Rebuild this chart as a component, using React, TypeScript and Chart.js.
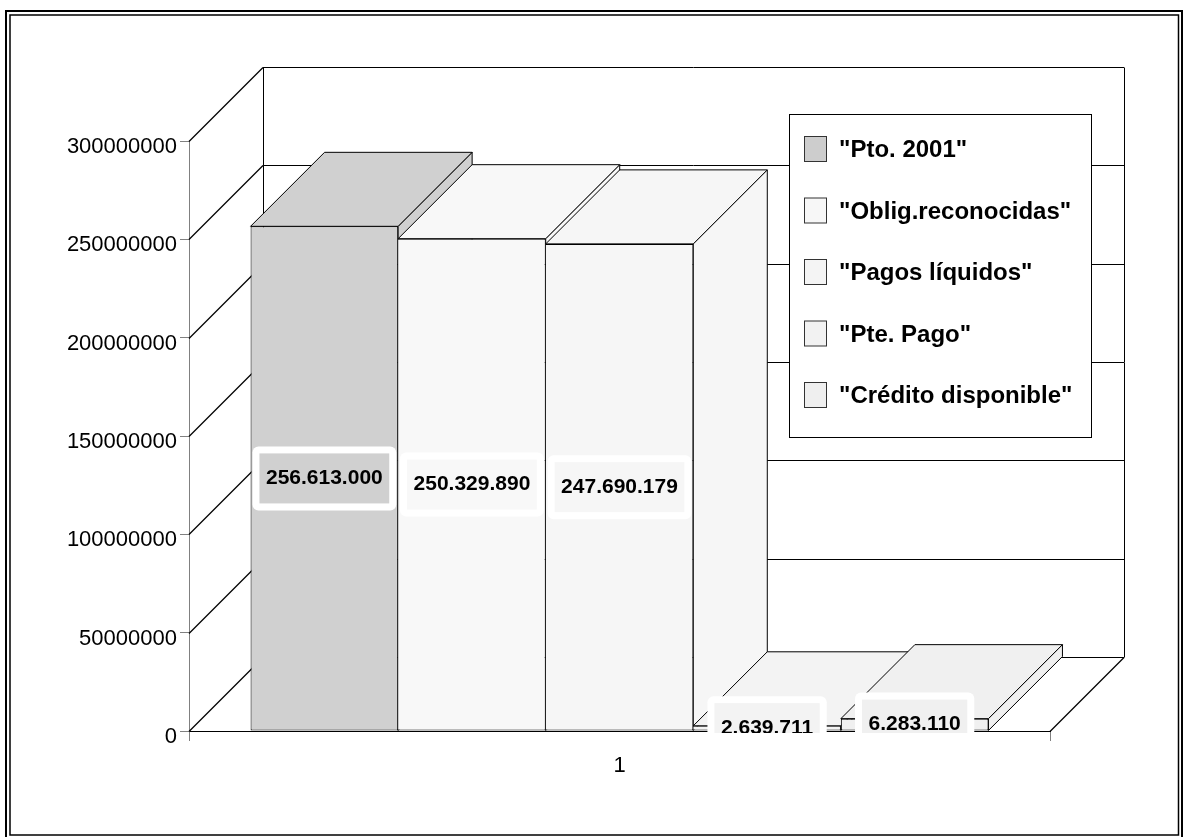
import React, { useEffect, useRef } from "react";
import { Chart, registerables } from "chart.js";

Chart.register(...registerables);

// ---------- data ----------
const CATEGORIES = ["1"];
const SERIES_NAMES = [
  '"Pto. 2001"',
  '"Oblig.reconocidas"',
  '"Pagos líquidos"',
  '"Pte. Pago"',
  '"Crédito disponible"',
];
const SERIES_VALUES = [256613000, 250329890, 247690179, 2639711, 6283110];
const SERIES_COLORS = ["#D0D0D0", "#F8F8F8", "#F6F6F6", "#F3F3F3", "#F0F0F0"];
const LEGEND_COLORS = ["#CDCDCD", "#F7F7F7", "#F4F4F4", "#F2F2F2", "#EFEFEF"];
const Y_MIN = 0;
const Y_MAX = 300000000;
const Y_STEP = 50000000;

// ---------- style constants ----------
const FONT = "'Liberation Sans', Arial, Helvetica, sans-serif";
const DEPTH = 74;

const fmt = (v: number) =>
  Math.round(v)
    .toString()
    .replace(/\B(?=(\d{3})+(?!\d))/g, ".");

function line(ctx: CanvasRenderingContext2D, x1: number, y1: number, x2: number, y2: number) {
  ctx.beginPath();
  ctx.moveTo(x1, y1);
  ctx.lineTo(x2, y2);
  ctx.stroke();
}

function poly(ctx: CanvasRenderingContext2D, pts: number[][]) {
  ctx.beginPath();
  ctx.moveTo(pts[0][0], pts[0][1]);
  for (let i = 1; i < pts.length; i++) ctx.lineTo(pts[i][0], pts[i][1]);
  ctx.closePath();
  ctx.fill();
  ctx.stroke();
}

function barGeom(chart: any, i: number) {
  const el = chart.getDatasetMeta(i).data[0];
  const p = el.getProps(["x", "y", "base", "width"], true);
  return { l: p.x - p.width / 2, r: p.x + p.width / 2, x: p.x, top: p.y, base: p.base };
}

const threeDPlugin = {
  id: "threeD",
  beforeDraw(chart: any) {
    const { ctx, width, height } = chart;
    ctx.save();
    ctx.fillStyle = "#ffffff";
    ctx.fillRect(0, 0, width, height);
    ctx.strokeStyle = "#000";
    ctx.lineWidth = 2;
    ctx.strokeRect(6, 11, 1176, 840);
    ctx.lineWidth = 1.5;
    ctx.strokeRect(10, 15, 1168.5, 820);
    ctx.restore();
  },
  beforeDatasetsDraw(chart: any) {
    const { ctx, chartArea: ca, scales } = chart;
    const ys = scales.y;
    const L = ca.left;
    const R = ca.right;
    const D = DEPTH;
    ctx.save();
    ctx.strokeStyle = "#000";
    for (let t = Y_MIN; t <= Y_MAX; t += Y_STEP) {
      const py = Math.round(ys.getPixelForValue(t)) + 0.5;
      ctx.lineWidth = 1.25;
      line(ctx, L, py, L + D, py - D);
      ctx.lineWidth = 1;
      line(ctx, L + D, py - D, R + D, py - D);
    }
    const topY = Math.round(ys.getPixelForValue(Y_MAX)) + 0.5 - D;
    const botY = Math.round(ys.getPixelForValue(Y_MIN)) + 0.5 - D;
    line(ctx, Math.round(L + D) + 0.5, topY, Math.round(L + D) + 0.5, botY);
    line(ctx, Math.round(R + D) + 0.5, topY, Math.round(R + D) + 0.5, botY);
    const y0 = Math.round(ys.getPixelForValue(0)) + 0.5;
    ctx.lineWidth = 1.25;
    line(ctx, R, y0, R + D, y0 - D);

    // side and top faces, left to right
    ctx.lineWidth = 1;
    ctx.strokeStyle = "#000";
    for (let i = 0; i < SERIES_VALUES.length; i++) {
      const g = barGeom(chart, i);
      ctx.fillStyle = SERIES_COLORS[i];
      poly(ctx, [
        [g.r, g.base],
        [g.r + D, g.base - D],
        [g.r + D, g.top - D],
        [g.r, g.top],
      ]);
      poly(ctx, [
        [g.l, g.top],
        [g.l + D, g.top - D],
        [g.r + D, g.top - D],
        [g.r, g.top],
      ]);
    }
    ctx.restore();
  },
  afterDatasetsDraw(chart: any) {
    const { ctx, scales, width } = chart;
    const ys = scales.y;
    const y0 = ys.getPixelForValue(0);

    // data labels (clipped at the floor)
    ctx.save();
    ctx.beginPath();
    ctx.rect(0, 0, width, y0 + 2);
    ctx.clip();
    ctx.font = `bold 21px ${FONT}`;
    ctx.textAlign = "center";
    ctx.textBaseline = "middle";
    for (let i = 0; i < SERIES_VALUES.length; i++) {
      const g = barGeom(chart, i);
      const txt = fmt(SERIES_VALUES[i]);
      const tw = ctx.measureText(txt).width;
      const cx = g.x;
      const cy = (g.top + g.base) / 2;
      const ow = tw + 27;
      const oh = 64;
      ctx.fillStyle = "#ffffff";
      ctx.beginPath();
      ctx.roundRect(cx - ow / 2, cy - oh / 2, ow, oh, 6);
      ctx.fill();
      const iw = tw + 13;
      const ih = 50;
      ctx.fillStyle = SERIES_COLORS[i];
      ctx.fillRect(cx - iw / 2, cy - ih / 2, iw, ih);
      ctx.fillStyle = "#000";
      ctx.fillText(txt, cx, cy);
    }
    ctx.restore();

    // legend
    ctx.save();
    const bx = 789.5;
    const by = 114.5;
    const bw = 302;
    const bh = 323;
    ctx.fillStyle = "#fff";
    ctx.fillRect(bx, by, bw, bh);
    ctx.strokeStyle = "#000";
    ctx.lineWidth = 1;
    ctx.strokeRect(bx, by, bw, bh);
    ctx.font = `bold 24px ${FONT}`;
    ctx.textAlign = "left";
    ctx.textBaseline = "middle";
    for (let i = 0; i < SERIES_NAMES.length; i++) {
      const cy = 149.5 + i * 61.5;
      ctx.fillStyle = LEGEND_COLORS[i];
      ctx.strokeStyle = "#333";
      ctx.fillRect(804.5, cy - 13, 22, 25);
      ctx.strokeRect(804.5, cy - 13, 22, 25);
      ctx.fillStyle = "#000";
      ctx.fillText(SERIES_NAMES[i], 839, cy + 1);
    }
    ctx.restore();
  },
};

export default function App() {
  const canvasRef = useRef<HTMLCanvasElement | null>(null);

  useEffect(() => {
    const canvas = canvasRef.current;
    if (!canvas) return;
    const datasets = SERIES_VALUES.map((v, i) => ({
      label: SERIES_NAMES[i],
      data: [v],
      backgroundColor: SERIES_COLORS[i],
      borderColor: "#000",
      borderWidth: 1,
      borderSkipped: i > 0 && SERIES_VALUES[i - 1] >= v ? "left" : false,
      categoryPercentage: 0.857,
      barPercentage: 1,
    }));
    const chart = new Chart(canvas, {
      type: "bar",
      data: { labels: CATEGORIES, datasets: datasets as any },
      options: {
        responsive: false,
        animation: false,
        devicePixelRatio: 1,
        layout: { padding: { left: 0, top: 141, right: 135, bottom: 0 } },
        plugins: {
          legend: { display: false },
          tooltip: { enabled: false },
          title: { display: false },
        },
        scales: {
          x: {
            type: "category",
            offset: true,
            z: 1,
            grid: {
              offset: true,
              drawOnChartArea: false,
              drawTicks: true,
              tickLength: 10,
              color: "#808080",
            },
            border: { display: true, color: "#000", width: 1 },
            ticks: {
              color: "#000",
              font: { family: FONT, size: 22 },
              padding: 12,
              maxRotation: 0,
            },
            afterFit: (s: any) => {
              s.height = 106;
            },
          },
          y: {
            min: Y_MIN,
            max: Y_MAX,
            grid: {
              drawOnChartArea: false,
              drawTicks: true,
              tickLength: 9,
              color: "#808080",
            },
            border: { display: true, color: "#808080", width: 1 },
            ticks: {
              stepSize: Y_STEP,
              color: "#000",
              font: { family: FONT, size: 22 },
              padding: 3,
              labelOffset: 6,
              callback: (v: any) => String(v),
            },
            afterFit: (s: any) => {
              s.width = 189;
            },
          },
        },
      } as any,
      plugins: [threeDPlugin],
    });
    return () => chart.destroy();
  }, []);

  return (
    <div style={{ position: "fixed", left: 0, top: 0, width: 1185, height: 837, background: "#fff" }}>
      <canvas ref={canvasRef} width={1185} height={837} style={{ display: "block" }} />
    </div>
  );
}
